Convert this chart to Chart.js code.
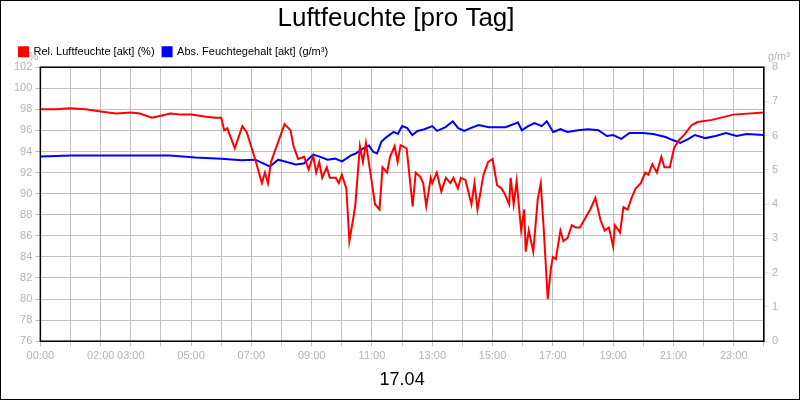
<!DOCTYPE html>
<html><head><meta charset="utf-8">
<script src="https://cdn.jsdelivr.net/npm/chart.js@4/dist/chart.umd.min.js"></script>
<style>html,body{margin:0;padding:0;background:#fff}#w{width:800px;height:400px;box-sizing:border-box;border:1px solid #000;position:relative}canvas{display:block}</style>
</head><body><div id="w"><canvas id="c" width="798" height="398"></canvas></div>
<script>
const xLabelHours=[0,2,3,5,7,9,11,13,15,17,19,21,23];
const yLeftTicks=[76,102,2];
const yRightTicks=[0,8,1];
const relHours=[0,0.5,1,1.5,2,2.5,3,3.3,3.7,4,4.3,4.7,5,5.5,5.8,6.0,6.1,6.2,6.45,6.7,6.85,7.1,7.35,7.45,7.55,7.65,8.1,8.3,8.4,8.55,8.75,8.9,9.05,9.15,9.25,9.35,9.5,9.6,9.8,9.9,10.0,10.15,10.25,10.4,10.45,10.6,10.7,10.8,11.0,11.1,11.25,11.35,11.5,11.6,11.75,11.85,11.95,12.15,12.35,12.45,12.6,12.7,12.8,12.95,13.0,13.15,13.3,13.45,13.6,13.7,13.85,13.95,14.1,14.3,14.4,14.5,14.7,14.85,15.0,15.15,15.3,15.4,15.55,15.6,15.7,15.8,15.9,15.95,16.05,16.1,16.2,16.35,16.5,16.6,16.7,16.83,16.94,17.0,17.1,17.25,17.35,17.49,17.63,17.76,17.9,18.1,18.24,18.41,18.58,18.72,18.86,19.0,19.06,19.23,19.34,19.48,19.61,19.75,19.92,20.06,20.17,20.3,20.37,20.45,20.6,20.7,20.88,21.02,21.16,21.36,21.6,21.8,22.28,22.99,24.0];
const relValues=[98.0,98.0,98.1,98.0,97.8,97.6,97.7,97.6,97.2,97.4,97.6,97.5,97.5,97.3,97.2,97.2,96.0,96.2,94.3,96.4,95.8,93.5,91.0,92.0,91.0,93.0,96.6,96.0,94.5,93.3,93.5,92.3,93.6,92.0,93.0,91.5,92.5,91.5,91.5,91.0,91.8,90.5,85.5,88.0,89.0,94.5,93.0,94.8,91.0,89.0,88.5,92.5,92.0,93.5,94.5,93.0,94.6,94.3,88.8,92.0,91.6,91.0,88.8,91.5,91.0,92.0,90.2,91.5,91.0,91.5,90.5,91.5,91.3,89.0,91.0,88.5,91.8,93.0,93.3,90.8,90.5,90.0,89.0,91.5,89.0,91.2,88.0,86.5,88.5,84.5,86.5,84.5,89.5,91.0,86.5,80.0,83.0,84.0,83.8,86.5,85.5,85.8,87.0,86.8,86.8,87.8,88.5,89.6,87.5,86.5,86.8,85.0,87.0,86.3,88.7,88.5,89.6,90.5,91.0,92.0,91.8,92.8,92.4,92.0,93.5,92.5,92.5,94.3,95.0,95.6,96.5,96.8,97.0,97.5,97.7,98.0];
const absHours=[0,1.03,3.09,4.29,5.14,6.0,6.68,7.13,7.61,7.89,8.23,8.47,8.74,9.05,9.26,9.53,9.77,10.01,10.29,10.46,10.7,10.9,11.04,11.17,11.31,11.48,11.72,11.86,12.0,12.17,12.34,12.51,12.74,13.0,13.16,13.44,13.68,13.86,14.06,14.27,14.54,14.88,15.43,15.71,15.84,15.97,16.18,16.39,16.63,16.80,17.01,17.25,17.49,17.83,18.17,18.51,18.79,19.0,19.27,19.54,19.99,20.33,20.74,20.95,21.23,21.5,21.71,22.06,22.4,22.74,23.09,23.43,24.0];
const absValues=[5.39,5.42,5.42,5.42,5.36,5.33,5.28,5.30,5.10,5.30,5.22,5.16,5.19,5.45,5.39,5.30,5.33,5.25,5.42,5.48,5.62,5.71,5.53,5.48,5.82,5.96,6.11,6.05,6.28,6.22,6.02,6.14,6.19,6.28,6.14,6.25,6.42,6.22,6.14,6.22,6.31,6.25,6.25,6.34,6.39,6.16,6.28,6.37,6.28,6.42,6.11,6.19,6.11,6.16,6.19,6.16,5.99,6.02,5.91,6.08,6.08,6.05,5.96,5.88,5.79,5.91,6.02,5.93,5.99,6.08,5.99,6.05,6.02];
const pts=(h,v)=>h.map((x,i)=>({x:x,y:v[i]}));
const grid='#c0c0c0', tc='#b4b4b4';
const deco={id:'deco',afterDraw(ch){const c=ch.ctx,a=ch.chartArea;c.save();c.strokeStyle='#000';c.lineWidth=1.5;c.strokeRect(a.left,a.top,a.right-a.left,a.bottom-a.top);
c.fillStyle=tc;c.font='11px Arial';c.textAlign='center';c.fillText('%',a.left-7,a.top-10);c.fillText('g/m³',a.right+15,a.top-10);c.restore();}};
new Chart(document.getElementById('c'),{type:'line',
data:{datasets:[
{label:'Rel. Luftfeuchte [akt] (%)',data:pts(relHours,relValues),borderColor:'#ff0000',backgroundColor:'#ff0000',yAxisID:'y',borderWidth:2,pointRadius:0,tension:0},
{label:'Abs. Feuchtegehalt [akt] (g/m³)',data:pts(absHours,absValues),borderColor:'#0000ff',backgroundColor:'#0000ff',yAxisID:'y1',borderWidth:2,pointRadius:0,tension:0}]},
options:{responsive:false,animation:false,devicePixelRatio:1,
layout:{padding:{left:10,right:18,top:0,bottom:4}},
plugins:{tooltip:{enabled:false},
title:{display:true,text:'Luftfeuchte [pro Tag]',color:'#000',font:{family:'Arial',size:26,weight:'normal'},padding:{top:2,bottom:4}},
legend:{position:'top',align:'start',labels:{color:'#000',font:{family:'Arial',size:11},boxWidth:9,boxHeight:9,padding:8}}},
scales:{
x:{type:'linear',min:0,max:24,afterBuildTicks(s){s.ticks=[];for(let i=0;i<=24;i++)s.ticks.push({value:i});},
ticks:{autoSkip:false,maxRotation:0,color:tc,font:{family:'Arial',size:11},callback:v=>xLabelHours.includes(v)?String(v).padStart(2,'0')+':00':''},
grid:{color:grid,tickLength:5},border:{color:'#000'},
title:{display:true,text:'17.04',color:'#000',font:{family:'Arial',size:18},padding:{top:4}}},
y:{position:'left',min:yLeftTicks[0],max:yLeftTicks[1],ticks:{stepSize:yLeftTicks[2],color:tc,font:{family:'Arial',size:11}},grid:{color:grid,tickLength:5},border:{color:'#000'}},
y1:{position:'right',min:yRightTicks[0],max:yRightTicks[1],ticks:{stepSize:yRightTicks[2],color:tc,font:{family:'Arial',size:11}},grid:{drawOnChartArea:false,tickLength:5},border:{color:'#000'}}}},
plugins:[deco]});
</script></body></html>
